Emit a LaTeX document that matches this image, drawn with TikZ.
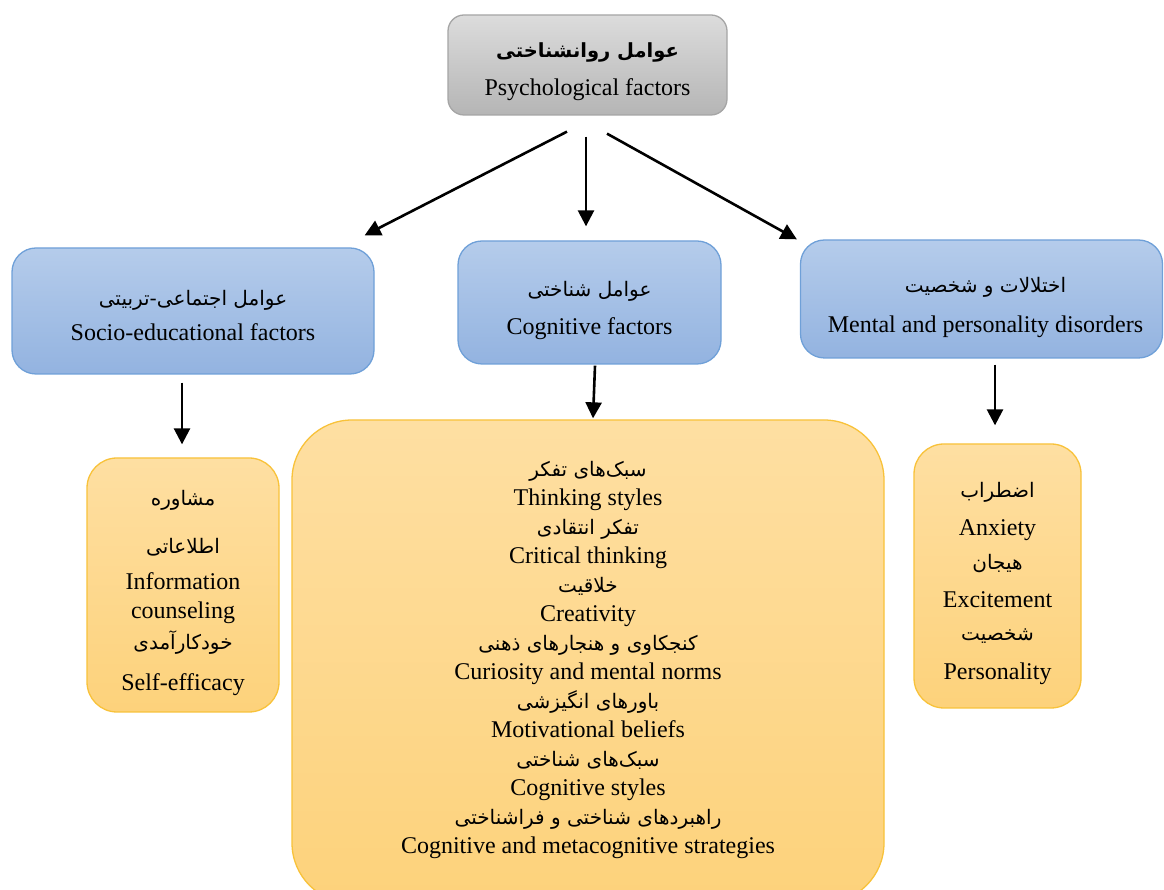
\documentclass[tikz,border=0pt]{standalone}
\usepackage{fontspec}
\setmainfont{Liberation Serif}
\newfontfamily\fafont[Script=Arabic]{DejaVu Sans}
\TeXXeTstate=1
\usetikzlibrary{arrows.meta}
\definecolor{gtop}{HTML}{DCDCDC}
\definecolor{gbot}{HTML}{B5B5B5}
\definecolor{gborder}{HTML}{A5A5A5}
\definecolor{btop}{HTML}{B5CCEB}
\definecolor{bbot}{HTML}{93B3E0}
\definecolor{bborder}{HTML}{6FA0D8}
\definecolor{otop}{HTML}{FEDFA2}
\definecolor{obot}{HTML}{FDD27B}
\definecolor{oborder}{HTML}{F8C23A}
\newcommand{\fa}[1]{{\fafont\fontsize{20}{29}\selectfont\beginR #1\endR}}
\newcommand{\fab}[1]{{\fafont\bfseries\fontsize{19.5}{29}\selectfont\beginR #1\endR}}
\tikzset{
  box/.style={rounded corners=#1, line width=1.3pt, inner sep=0pt},
  txt/.style={align=center, inner sep=0pt, font=\fontsize{24}{29}\selectfont},
  graybox/.style={box=16pt, draw=gborder, top color=gtop, bottom color=gbot},
  bluebox/.style={box=24pt, draw=bborder, top color=btop, bottom color=bbot},
  orangebox/.style={box=#1, draw=oborder, top color=otop, bottom color=obot},
  arr/.style={line width=2.6pt, -{Triangle[length=16pt,width=16pt]}}
}
\begin{document}
\begin{tikzpicture}[x=1pt,y=1pt]
\useasboundingbox (0,0) rectangle (1164,890);
% top
\node[graybox, minimum width=279pt, minimum height=100pt] (top) at (587.5,825) {};
\node[txt] (toptxt) at ([yshift=-7pt]top.center)
  {\fab{عوامل روانشناختی}\\[9pt] Psychological factors};
% middle row
\node[bluebox, minimum width=362pt, minimum height=126pt] (soc) at (193,579) {};
\node[txt] (soctxt) at ([yshift=-5pt]soc.center)
  {\fa{عوامل اجتماعی-تربیتی}\\[6pt] Socio-educational factors};
\node[bluebox, minimum width=263pt, minimum height=123pt] (cog) at (589.5,587.5) {};
\node[txt] (cogtxt) at ([yshift=-8.5pt]cog.center)
  {\fa{عوامل شناختی}\\[9pt] Cognitive factors};
\node[bluebox, minimum width=362pt, minimum height=118pt] (dis) at (981.5,591) {};
\node[txt] (distxt) at ([xshift=4pt,yshift=-8.5pt]dis.center)
  {\fa{اختلالات و شخصیت}\\[11pt] Mental and personality disorders};
% bottom row
\node[orangebox=30pt, minimum width=192pt, minimum height=254pt] (socb) at (183,305) {};
\node[txt] (socbtxt) at ([yshift=-8pt]socb.center)
  {\fa{مشاوره}\\[19pt] \fa{اطلاعاتی}\\[7pt] Information\\ counseling\\[2pt] \fa{خودکارآمدی}\\[12pt] Self-efficacy};
\node[orangebox=60pt, minimum width=592pt, minimum height=483pt] (cogb) at (588,228.5) {};
\node[txt] (cogbtxt) at ([yshift=2pt]cogb.center)
  {\fa{سبک‌های تفکر}\\ Thinking styles\\ \fa{تفکر انتقادی}\\ Critical thinking\\
   \fa{خلاقیت}\\ Creativity\\ \fa{کنجکاوی و هنجارهای ذهنی}\\ Curiosity and mental norms\\
   \fa{باورهای انگیزشی}\\ Motivational beliefs\\ \fa{سبک‌های شناختی}\\ Cognitive styles\\
   \fa{راهبردهای شناختی و فراشناختی}\\ Cognitive and metacognitive strategies};
\node[orangebox=30pt, minimum width=167pt, minimum height=264pt] (disb) at (997.5,314) {};
\node[txt] (disbtxt) at ([yshift=-7pt]disb.center)
  {\fa{اضطراب}\\[9pt] Anxiety\\[5pt] \fa{هیجان}\\[9pt] Excitement\\[4pt] \fa{شخصیت}\\[10pt] Personality};
% arrows
\draw[arr] ([xshift=-20.5pt,yshift=-16pt]top.south) -- ([xshift=-10pt,yshift=12pt]soc.north east);
\draw[arr] ([xshift=-1.5pt,yshift=-21pt]top.south) -- ([xshift=-1.5pt,yshift=14pt]top.south |- cog.north);
\draw[arr] ([xshift=19.5pt,yshift=-18pt]top.south) -- ([xshift=-3pt]dis.north west);
\draw[arr] ([xshift=-11pt,yshift=-8pt]soc.south) -- ([xshift=-11pt,yshift=13pt]soc.south |- socb.north);
\draw[arr] ([xshift=5.5pt,yshift=-1pt]cog.south) -- ([xshift=5pt,yshift=1pt]cogb.north);
\draw[arr] ([xshift=13.5pt,yshift=-6pt]dis.south) -- ([xshift=13.5pt,yshift=18pt]dis.south |- disb.north);
\end{tikzpicture}
\end{document}
